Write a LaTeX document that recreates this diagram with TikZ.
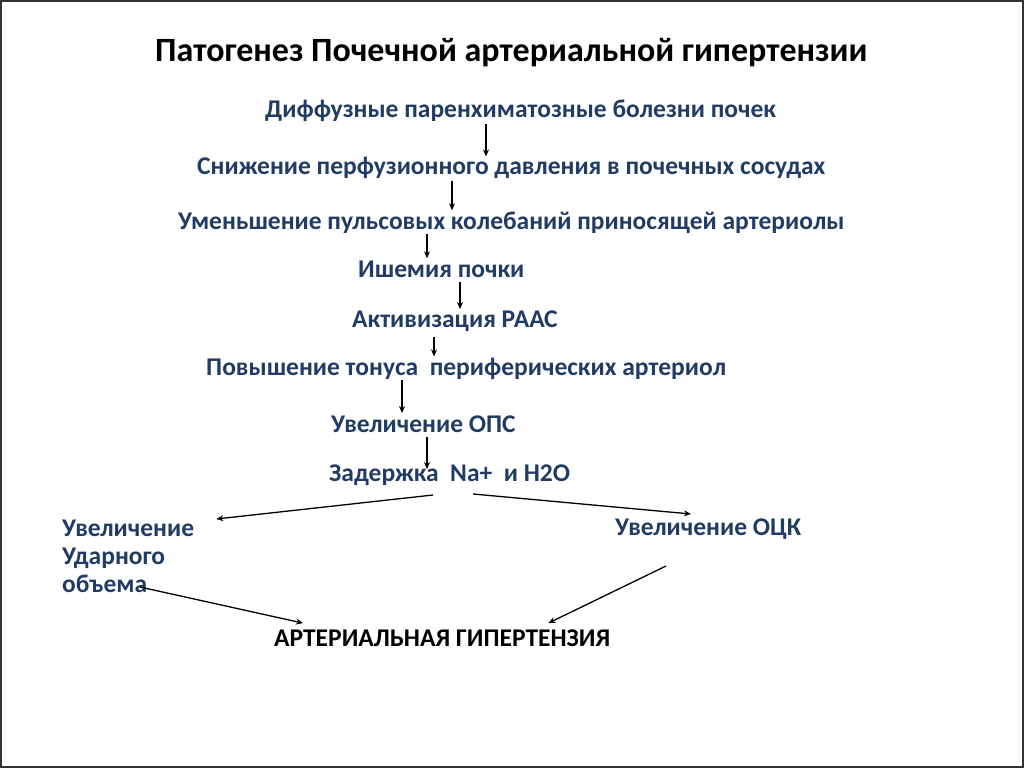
\documentclass[tikz,border=0pt]{standalone}
\usepackage{fontspec}
\setmainfont{Carlito}
\usetikzlibrary{arrows.meta}
\definecolor{txtblue}{RGB}{33,60,100}
\begin{document}
\begin{tikzpicture}[x=1pt,y=1pt,
  lbl/.style={font=\bfseries\fontsize{25.5}{28}\selectfont, text=txtblue, inner sep=0pt, anchor=base west},
  ttl/.style={font=\bfseries\fontsize{34}{40}\selectfont, text=black, inner sep=0pt, anchor=base west},
  arr/.style={-{Stealth[length=7pt,width=6pt]}, line width=1.3pt, black}]
\useasboundingbox (0,0) rectangle (1024,768);
\draw[line width=1.5pt, black!80] (1,1) rectangle (1023,767);

\node[ttl] (title) at (155,706) {Патогенез Почечной артериальной гипертензии};
\node[lbl] (l1) at (265,650) {Диффузные паренхиматозные болезни почек};
\node[lbl] (l2) at (197,593) {Снижение перфузионного давления в почечных сосудах};
\node[lbl] (l3) at (178,538) {Уменьшение пульсовых колебаний приносящей артериолы};
\node[lbl] (l4) at (358,490) {Ишемия почки};
\node[lbl] (l5) at (352,440) {Активизация РААС};
\node[lbl] (l6) at (206,392) {Повышение тонуса\ \ периферических артериол};
\node[lbl] (l7) at (331,335) {Увеличение ОПС};
\node[lbl] (l8) at (329,286) {Задержка\ \ Na+\ \ и H2O};
\node[lbl, anchor=north west, align=left] (l9) at (62,248) {Увеличение\\Ударного\\объема};
\node[lbl] (l10) at (615,232) {Увеличение ОЦК};
\node[lbl, text=black] (l11) at (274,122) {АРТЕРИАЛЬНАЯ ГИПЕРТЕНЗИЯ};

\coordinate (x1) at (486,0);
\coordinate (x2) at (452,0);
\coordinate (x3) at (427,0);
\coordinate (x4) at (460,0);
\coordinate (x5) at (434,0);
\coordinate (x6) at (402,0);
\coordinate (x7) at (427,0);

\draw[arr] ([yshift=-2pt]l1.south -| x1) -- ([yshift=1pt]l2.north -| x1);
\draw[arr] ([yshift=-2pt]l2.south -| x2) -- ([yshift=2pt]l3.north -| x2);
\draw[arr] ([yshift=0pt]l3.south -| x3) -- ([yshift=3pt]l4.north -| x3);
\draw[arr] ([yshift=-4pt]l4.south -| x4) -- ([yshift=2pt]l5.north -| x4);
\draw[arr] ([yshift=-5pt]l5.south -| x5) -- ([yshift=2pt]l6.north -| x5);
\draw[arr] ([yshift=0pt]l6.south -| x6) -- ([yshift=3pt]l7.north -| x6);
\draw[arr] ([yshift=-4pt]l7.south -| x7) -- ([yshift=-4pt]l8.north -| x7);

\coordinate (s8) at (433,273);
\coordinate (s9) at (473,274);
\coordinate (t9) at (691,254);
\draw[arr] (s8) -- ([xshift=22pt,yshift=1pt]l9.north east);
\draw[arr] (s9) -- (t9);
\coordinate (s10) at (140,181);
\coordinate (s11) at (666,202);
\draw[arr] (s10) -- ([xshift=29pt,yshift=6pt]l11.north west);
\draw[arr] (s11) -- ([xshift=-62pt,yshift=6pt]l11.north east);
\end{tikzpicture}
\end{document}
